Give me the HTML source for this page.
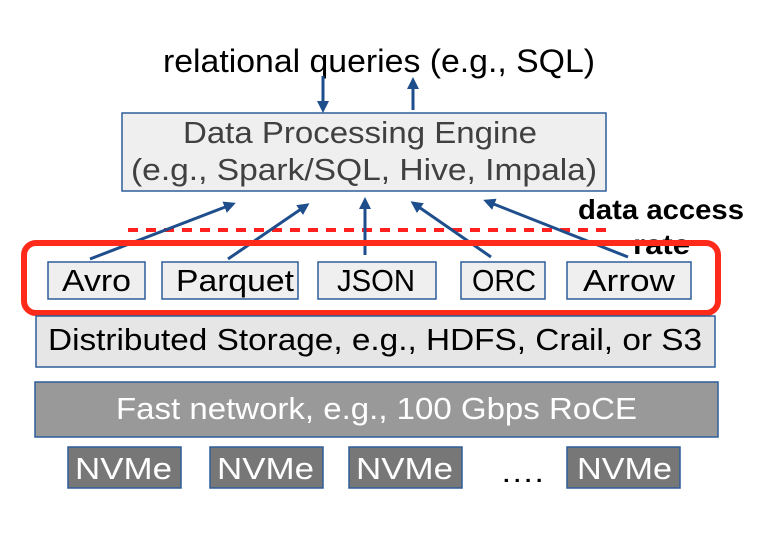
<!DOCTYPE html>
<html><head><style>
body{margin:0;background:#fff}
svg text{font-family:"Liberation Sans",sans-serif}
</style></head><body>
<svg width="774" height="538" viewBox="0 0 774 538">
<defs><marker id="a" markerWidth="12" markerHeight="12" refX="9" refY="6" orient="auto" markerUnits="userSpaceOnUse"><path d="M0,0 L12,6 L0,12 Z" fill="#1f4e8c"/></marker></defs>
<text x="163" y="72" font-size="32" textLength="432" lengthAdjust="spacingAndGlyphs" fill="#000">relational queries (e.g., SQL)</text>
<g stroke="#1f4e8c" stroke-width="3" fill="none">
<line x1="323" y1="76" x2="323" y2="110" marker-end="url(#a)"/>
<line x1="413" y1="110" x2="413" y2="80" marker-end="url(#a)"/>
</g>
<rect x="122" y="113" width="484" height="78" fill="#efefef" stroke="#2e5d9a" stroke-width="1.5"/>
<text x="183" y="143" font-size="31" textLength="354" lengthAdjust="spacingAndGlyphs" fill="#404040">Data Processing Engine</text>
<text x="131" y="180" font-size="31" textLength="466" lengthAdjust="spacingAndGlyphs" fill="#404040">(e.g., Spark/SQL, Hive, Impala)</text>
<line x1="128" y1="230" x2="614" y2="230" stroke="#ff2020" stroke-width="4" stroke-dasharray="10,8"/>
<g stroke="#1f4e8c" stroke-width="3" fill="none">
<line x1="90" y1="259" x2="233" y2="204" marker-end="url(#a)"/>
<line x1="228" y1="259" x2="307" y2="205" marker-end="url(#a)"/>
<line x1="365" y1="255" x2="365" y2="200" marker-end="url(#a)"/>
<line x1="491" y1="257" x2="413" y2="203" marker-end="url(#a)"/>
<line x1="628" y1="257" x2="486" y2="201" marker-end="url(#a)"/>
</g>
<text x="578" y="219" font-size="28" font-weight="bold" textLength="166" lengthAdjust="spacingAndGlyphs" fill="#000">data access</text>
<text x="633" y="254" font-size="28" font-weight="bold" textLength="57" lengthAdjust="spacingAndGlyphs" fill="#000">rate</text>
<rect x="24" y="243" width="694" height="70" rx="12" fill="none" stroke="#ff2a1a" stroke-width="6"/>
<g fill="#efefef" stroke="#2e5d9a" stroke-width="1.5">
<rect x="48" y="262" width="97" height="37"/>
<rect x="162" y="262" width="136" height="37"/>
<rect x="318" y="262" width="118" height="37"/>
<rect x="461" y="262" width="84" height="37"/>
<rect x="567" y="262" width="124" height="37"/>
</g>
<g font-size="31" fill="#000">
<text x="62" y="291" textLength="69" lengthAdjust="spacingAndGlyphs">Avro</text>
<text x="176" y="291" textLength="118" lengthAdjust="spacingAndGlyphs">Parquet</text>
<text x="337" y="291" textLength="78" lengthAdjust="spacingAndGlyphs">JSON</text>
<text x="472" y="291" textLength="64" lengthAdjust="spacingAndGlyphs">ORC</text>
<text x="583" y="291" textLength="92" lengthAdjust="spacingAndGlyphs">Arrow</text>
</g>
<rect x="36" y="316" width="679" height="51" fill="#e6e6e6" stroke="#2e5d9a" stroke-width="1.5"/>
<text x="48" y="350" font-size="31" textLength="654" lengthAdjust="spacingAndGlyphs" fill="#000">Distributed Storage, e.g., HDFS, Crail, or S3</text>
<rect x="35" y="382" width="683" height="55" fill="#999" stroke="#2e5d9a" stroke-width="1.5"/>
<text x="116" y="419" font-size="31" textLength="521" lengthAdjust="spacingAndGlyphs" fill="#fff">Fast network, e.g., 100 Gbps RoCE</text>
<g fill="#777" stroke="#2e5d9a" stroke-width="1.5">
<rect x="68" y="447" width="113" height="41"/>
<rect x="210" y="447" width="113" height="41"/>
<rect x="349" y="447" width="113" height="41"/>
<rect x="567" y="447" width="113" height="41"/>
</g>
<g font-size="31" fill="#fff">
<text x="75" y="479" textLength="97" lengthAdjust="spacingAndGlyphs">NVMe</text>
<text x="217" y="479" textLength="97" lengthAdjust="spacingAndGlyphs">NVMe</text>
<text x="356" y="479" textLength="97" lengthAdjust="spacingAndGlyphs">NVMe</text>
<text x="577" y="479" textLength="95" lengthAdjust="spacingAndGlyphs">NVMe</text>
</g>
<text x="500" y="482" font-size="30" textLength="44" lengthAdjust="spacingAndGlyphs" fill="#000">….</text>
</svg>
</body></html>
